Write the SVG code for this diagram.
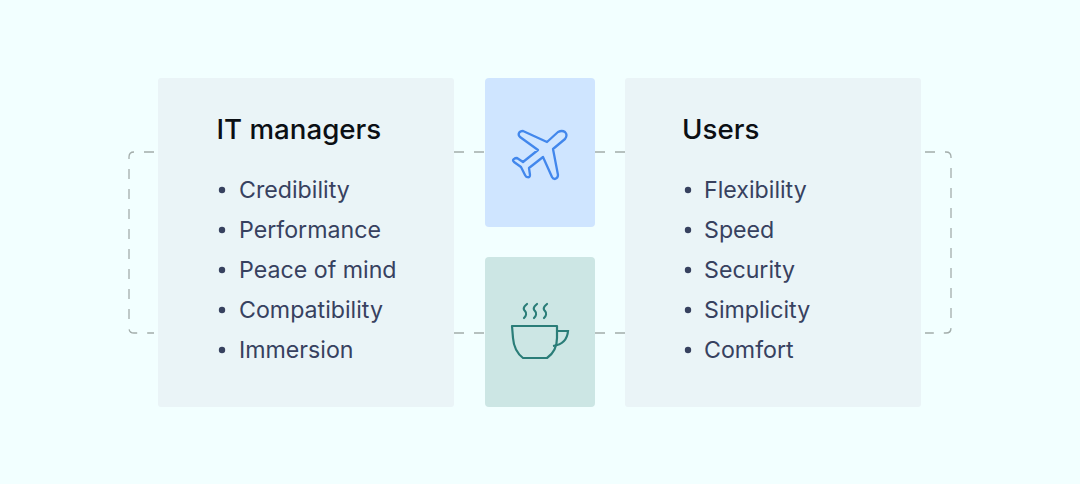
<svg xmlns="http://www.w3.org/2000/svg" width="1080" height="484" viewBox="0 0 1080 484">
<style>
.card{fill:#eaf4f7}
.title{font:500 27.7px Inter,"Liberation Sans",sans-serif;fill:#0b0f14}
.item{font:400 23.2px Inter,"Liberation Sans",sans-serif;fill:#37415f}
.dot{fill:#37415f}
.dash{fill:none;stroke:#a3adab;stroke-width:1.3;stroke-dasharray:10 10}
</style>
<rect width="1080" height="484" fill="#f2ffff"/>
<g id="connectors">
<path class="dash" d="M154 152H134Q129 152 129 157V328Q129 333 134 333H154"/>
<path class="dash" d="M925 152H946Q951 152 951 157V328Q951 333 946 333H925"/>
<path class="dash" d="M454 152H485M595 152H625M454 333H485M595 333H625"/>
</g>
<g id="it-managers">
<rect class="card" x="158" y="78" width="296" height="329" rx="3"/>
<text class="title" x="216.500" y="139">IT managers</text>
<circle class="dot" cx="222" cy="190" r="3.200"/><text class="item" x="239" y="198">Credibility</text>
<circle class="dot" cx="222" cy="230" r="3.200"/><text class="item" x="239" y="238">Performance</text>
<circle class="dot" cx="222" cy="270" r="3.200"/><text class="item" x="239" y="278">Peace of mind</text>
<circle class="dot" cx="222" cy="310" r="3.200"/><text class="item" x="239" y="318">Compatibility</text>
<circle class="dot" cx="222" cy="350" r="3.200"/><text class="item" x="239" y="358">Immersion</text>
</g>
<g id="plane">
<rect x="485" y="78" width="110" height="149" rx="4" fill="#cfe5ff"/>
<path d="M519 133Q520 131 523 131L547 142L558 132Q562 130 565 132Q568 135 565 139L553 149L558 175Q558 178 555 179Q553 179 552 177L543 157L529 168L530 175Q530 178 527 177Q526 177 525 175L521 167L514 162Q512 160 514 159Q515 158 517 158L523 162L538 150L520 137Q518 135 519 133Z" fill="none" stroke="#4287ec" stroke-width="2.300" stroke-linejoin="round"/>
</g>
<g id="cup">
<rect x="485" y="257" width="110" height="150" rx="4" fill="#cce6e4"/>
<g fill="none" stroke="#2a7d78" stroke-width="2.200">
<path d="M512 326H557V338Q557 351 547 358H523Q514 351 513 338Z" stroke-linejoin="round"/>
<path d="M557 331H568Q567 344 553 346"/>
<path d="M527 304C522 308 524 310 525 311C527 313 526 316 524 318M537 304C532 308 534 310 535 311C537 313 536 316 534 318M547 304C542 308 544 310 545 311C547 313 546 316 544 318" stroke-linecap="round"/>
</g>
</g>
<g id="users">
<rect class="card" x="625" y="78" width="296" height="329" rx="3"/>
<text class="title" x="682" y="139">Users</text>
<circle class="dot" cx="688" cy="190" r="3.200"/><text class="item" x="704" y="198">Flexibility</text>
<circle class="dot" cx="688" cy="230" r="3.200"/><text class="item" x="704" y="238">Speed</text>
<circle class="dot" cx="688" cy="270" r="3.200"/><text class="item" x="704" y="278">Security</text>
<circle class="dot" cx="688" cy="310" r="3.200"/><text class="item" x="704" y="318">Simplicity</text>
<circle class="dot" cx="688" cy="350" r="3.200"/><text class="item" x="704" y="358">Comfort</text>
</g>
</svg>
